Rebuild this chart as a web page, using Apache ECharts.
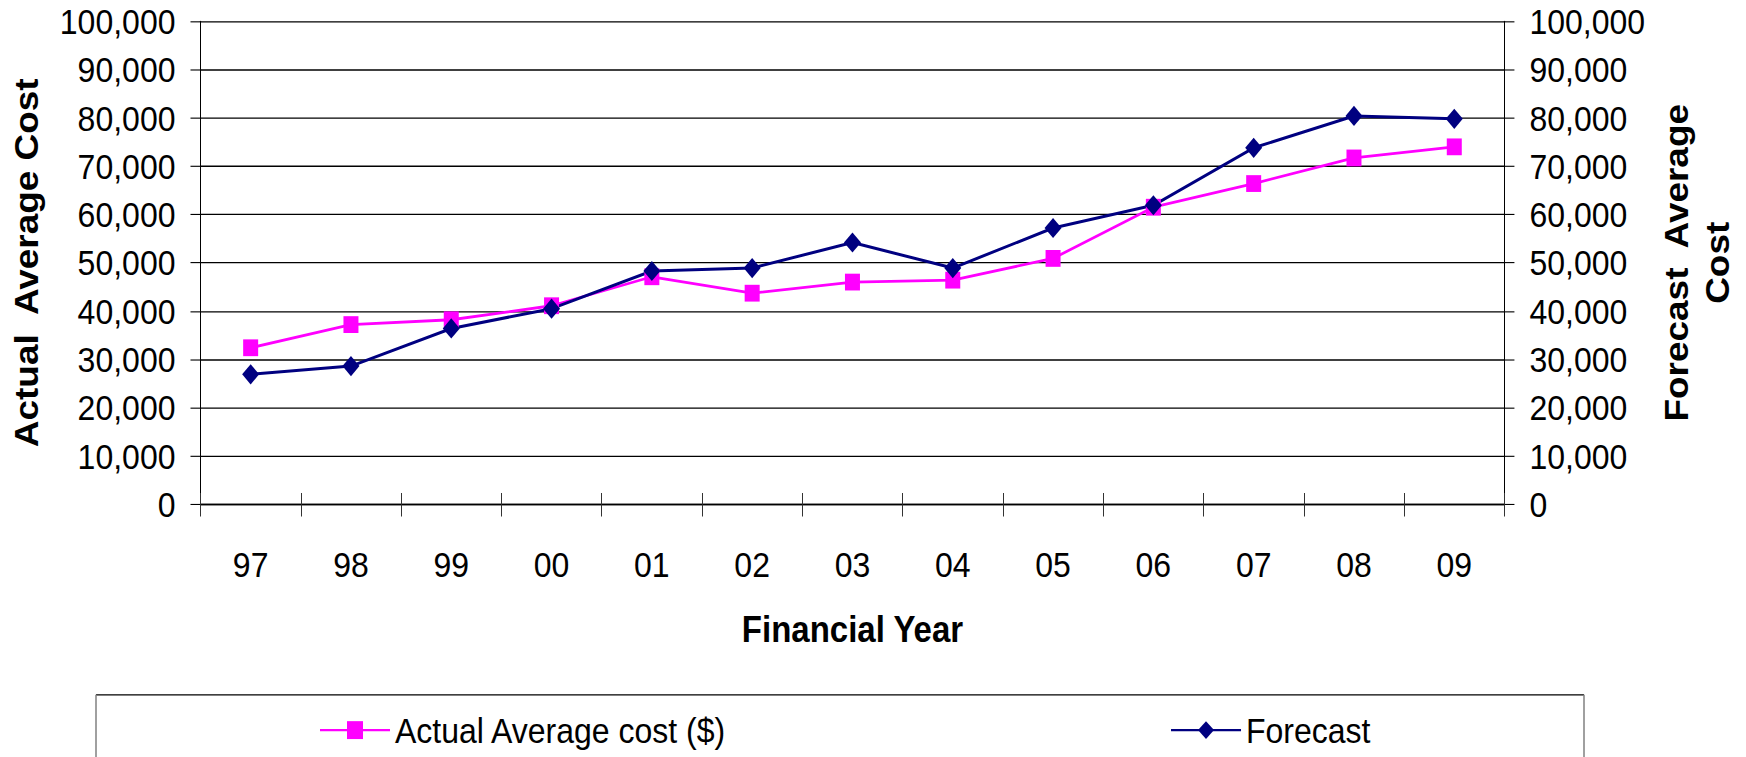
<!DOCTYPE html>
<html>
<head>
<meta charset="utf-8">
<title>Actual vs Forecast Average Cost</title>
<script src="https://cdn.jsdelivr.net/npm/echarts@6/dist/echarts.min.js"></script>
<style>
  html, body { margin: 0; padding: 0; background: #fff; width: 1746px; height: 757px; }
  /* the chart is laid out at a shorter base height and stretched vertically to fill the page */
  #chart { width: 1746px; height: 676px; transform: scaleY(1.1198); transform-origin: 0 0; }
</style>
</head>
<body>
<div id="chart"></div>
<script>
// Financial years
const years = ['97', '98', '99', '00', '01', '02', '03', '04', '05', '06', '07', '08', '09'];
// Actual average cost per year ($)
const actualCost = [32400, 37200, 38200, 41100, 47100, 43700, 46000, 46400, 50900, 61500, 66400, 71700, 74000];
// Forecast average cost per year ($)
const forecastCost = [26900, 28600, 36400, 40500, 48300, 48900, 54200, 48900, 57200, 61900, 73800, 80400, 79800];
// Value axis range shared by both sides
const costMin = 0;
const costMax = 100000;
const costStep = 10000;

const FONT = '"Liberation Sans", Arial, sans-serif';
const fmt = v => v.toLocaleString('en-US');

const chart = echarts.init(document.getElementById('chart'), null, { renderer: 'svg' });

const valueAxisBase = {
  type: 'value',
  min: costMin,
  max: costMax,
  interval: costStep,
  nameLocation: 'middle',
  nameRotate: 90,
  nameTextStyle: { fontFamily: FONT, fontSize: 33, fontWeight: 'bold', color: '#000' },
  axisLine: { show: true, lineStyle: { color: '#000', width: 1 } },
  axisTick: { show: true, length: 10, lineStyle: { color: '#000', width: 1 } },
  axisLabel: { fontFamily: FONT, fontSize: 32, color: '#000', margin: 25, formatter: fmt }
};

chart.setOption({
  backgroundColor: '#fff',
  animation: false,
  grid: { left: 200.5, right: 238.5, top: 19, bottom: 225.7, containLabel: false },
  xAxis: [
    {
      type: 'category',
      data: years,
      boundaryGap: true,
      position: 'bottom',
      name: 'Financial Year',
      nameLocation: 'middle',
      nameGap: 95,
      nameTextStyle: { fontFamily: FONT, fontSize: 33, fontWeight: 'bold', color: '#000' },
      axisLine: { show: true, lineStyle: { color: '#000', width: 1.2 } },
      axisTick: { show: true, length: 11, lineStyle: { color: '#333', width: 1 } },
      axisLabel: { fontFamily: FONT, fontSize: 32, color: '#000', margin: 38, interval: 0 }
    },
    {
      // inward half of the category ticks, so they cross the baseline
      type: 'category',
      data: years,
      boundaryGap: true,
      position: 'bottom',
      axisLine: { show: false },
      axisTick: { show: true, inside: true, length: 10, lineStyle: { color: '#333', width: 1 } },
      axisLabel: { show: false },
      splitLine: { show: false }
    }
  ],
  yAxis: [
    Object.assign({}, valueAxisBase, {
      position: 'left',
      name: 'Actual  Average Cost',
      nameGap: 158,
      splitLine: { show: true, lineStyle: { color: '#000', width: 1.2 } }
    }),
    Object.assign({}, valueAxisBase, {
      position: 'right',
      name: 'Forecast  Average\nCost',
      nameGap: 150,
      nameTextStyle: { fontFamily: FONT, fontSize: 33, fontWeight: 'bold', color: '#000', lineHeight: 41 },
      splitLine: { show: false }
    })
  ],
  legend: {
    left: 319,
    top: 636,
    padding: 0,
    itemWidth: 70,
    itemHeight: 20,
    itemGap: 443,
    textStyle: { fontFamily: FONT, fontSize: 32, color: '#000' },
    data: ['Actual Average cost ($)', 'Forecast']
  },
  graphic: [
    { type: 'line', shape: { x1: 96, y1: 620.5, x2: 1584, y2: 620.5 }, style: { stroke: '#000', lineWidth: 1.2 } },
    { type: 'line', shape: { x1: 96, y1: 620.5, x2: 96, y2: 700 }, style: { stroke: '#808080', lineWidth: 1.5 } },
    { type: 'line', shape: { x1: 1584, y1: 620.5, x2: 1584, y2: 700 }, style: { stroke: '#808080', lineWidth: 1.5 } }
  ],
  series: [
    {
      name: 'Actual Average cost ($)',
      type: 'line',
      xAxisIndex: 0,
      yAxisIndex: 0,
      data: actualCost,
      symbol: 'rect',
      symbolSize: 15,
      lineStyle: { color: '#FF00FF', width: 2.5 },
      itemStyle: { color: '#FF00FF' }
    },
    {
      name: 'Forecast',
      type: 'line',
      xAxisIndex: 0,
      yAxisIndex: 1,
      data: forecastCost,
      symbol: 'diamond',
      symbolSize: [17, 18],
      lineStyle: { color: '#000080', width: 2.7 },
      itemStyle: { color: '#000080' }
    }
  ]
});
</script>
</body>
</html>
